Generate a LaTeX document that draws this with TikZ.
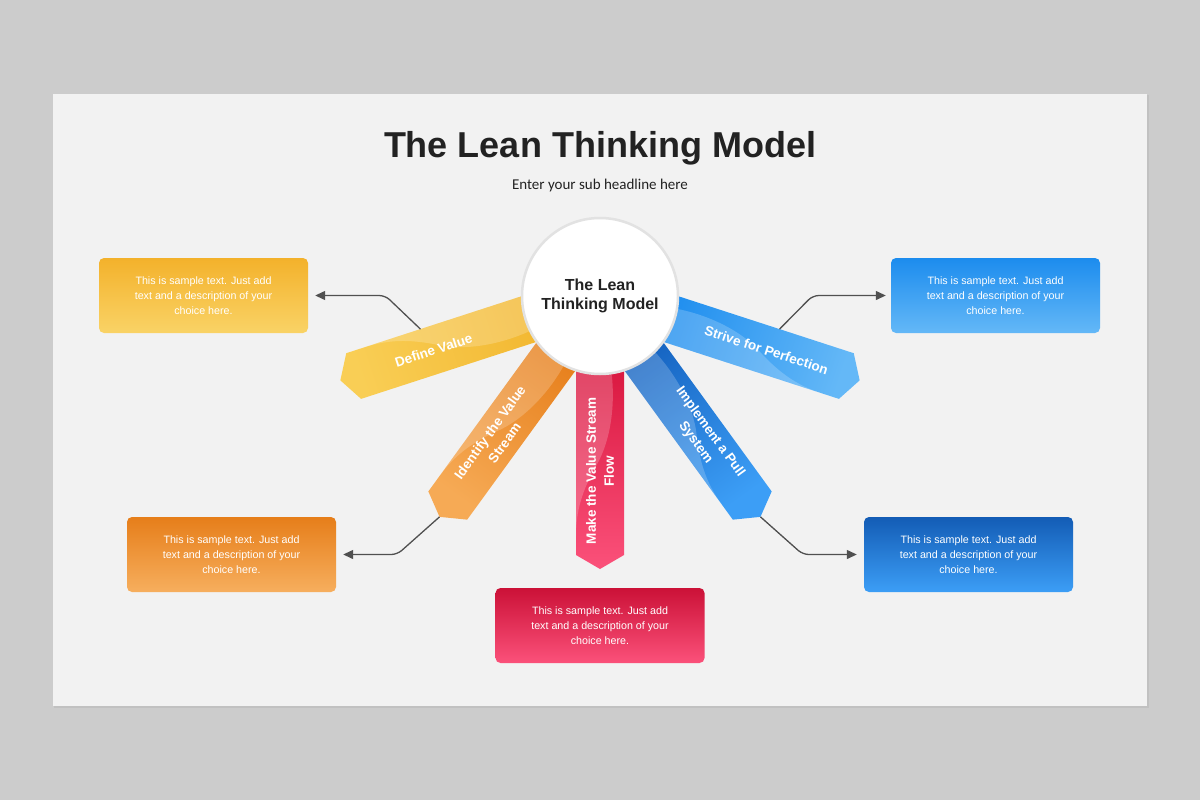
\documentclass[tikz,border=0pt]{standalone}
\usepackage{fontspec}
\setmainfont{Liberation Sans}
\newfontfamily\subfont{Carlito}
\usetikzlibrary{arrows.meta}

\definecolor{pagegray}{HTML}{CCCCCC}
\definecolor{slidegray}{HTML}{F2F2F2}
\definecolor{ink}{HTML}{222222}
\definecolor{linegray}{HTML}{505050}
\definecolor{ringgray}{HTML}{E2E2E2}
\definecolor{yelA}{HTML}{F2B730}
\definecolor{yelB}{HTML}{F9CE55}
\definecolor{oraA}{HTML}{E67E1A}
\definecolor{oraB}{HTML}{F6AA55}
\definecolor{redA}{HTML}{D6123A}
\definecolor{redB}{HTML}{FB517A}
\definecolor{pulA}{HTML}{1461BF}
\definecolor{pulB}{HTML}{3C9EF6}
\definecolor{strA}{HTML}{1C8CEE}
\definecolor{strB}{HTML}{64B8F7}

\begin{document}
\begin{tikzpicture}[x=1pt,y=1pt,
  sample/.style={rounded corners=5pt, minimum width=209pt, minimum height=75pt,
    inner sep=0pt, align=center, text=white, font=\fontsize{10.7}{15}\selectfont},
  lead/.style={draw=linegray, line width=1.3pt, rounded corners=6pt,
    -{Triangle[length=10pt,width=9pt]}},
  band/.style={text=white, align=center, font=\bfseries\fontsize{13.5}{18}\selectfont},
  gloss/.style={fill=white, opacity=.2}]

\useasboundingbox (0,0) rectangle (1200,-800);
\fill[pagegray] (0,0) rectangle (1200,-800);
\fill[black, opacity=.05] (54,-95) rectangle (1149,-708);
\fill[slidegray] (53,-94) rectangle (1147,-706);

\node[font=\bfseries\fontsize{36}{40}\selectfont, text=ink, anchor=base] (title) at (600,-157) {The Lean Thinking Model};
\node[font=\subfont\fontsize{15}{18}\selectfont, text=ink, anchor=base] (subtitle) at (600,-189) {Enter your sub headline here};

\begin{scope}[shift={(600,-296)}, rotate=198]
\shade[top color=yelB, bottom color=yelA, shading angle=108] (50,24) -- (259,24) -- (273,0) -- (259,-24) -- (50,-24) -- cycle;
\fill[gloss] (50,-24) -- (50,6) .. controls (90,18) and (140,14) .. (170,-4) .. controls (195,-18) and (215,-24) .. (240,-24) -- cycle;
\node[band, rotate=18] (value) at (175,0) {Define Value};
\coordinate (valuefoot) at (181,-24);
\end{scope}

\begin{scope}[shift={(600,-296)}, rotate=234]
\shade[top color=oraB, bottom color=oraA, shading angle=144] (50,24) -- (259,24) -- (273,0) -- (259,-24) -- (50,-24) -- cycle;
\fill[gloss] (50,-24) -- (50,6) .. controls (90,18) and (140,14) .. (170,-4) .. controls (195,-18) and (215,-24) .. (240,-24) -- cycle;
\node[band, rotate=54] (stream) at (175,0) {Identify the Value\\Stream};
\coordinate (streamtip) at (273,0);
\end{scope}

\begin{scope}[shift={(600,-296)}, rotate=270]
\shade[top color=redB, bottom color=redA, shading angle=180] (50,24) -- (259,24) -- (273,0) -- (259,-24) -- (50,-24) -- cycle;
\fill[gloss] (50,-24) -- (50,6) .. controls (90,18) and (140,14) .. (170,-4) .. controls (195,-18) and (215,-24) .. (240,-24) -- cycle;
\node[band, rotate=90] (flow) at (175,0) {Make the Value Stream\\Flow};
\end{scope}

\begin{scope}[shift={(600,-296)}, rotate=306]
\shade[top color=pulB, bottom color=pulA, shading angle=216] (50,24) -- (259,24) -- (273,0) -- (259,-24) -- (50,-24) -- cycle;
\fill[gloss] (50,-24) -- (50,6) .. controls (90,18) and (140,14) .. (170,-4) .. controls (195,-18) and (215,-24) .. (240,-24) -- cycle;
\node[band, rotate=-54] (pull) at (175,0) {Implement a Pull\\System};
\coordinate (pulltip) at (273,0);
\end{scope}

\begin{scope}[shift={(600,-296)}, rotate=342]
\shade[top color=strB, bottom color=strA, shading angle=252] (50,24) -- (259,24) -- (273,0) -- (259,-24) -- (50,-24) -- cycle;
\fill[gloss] (50,-24) -- (50,6) .. controls (90,18) and (140,14) .. (170,-4) .. controls (195,-18) and (215,-24) .. (240,-24) -- cycle;
\node[band, rotate=-18] (perfect) at (175,0) {Strive for Perfection};
\coordinate (perfectfoot) at (181,24);
\end{scope}

\node[circle, fill=white, draw=ringgray, line width=2.5pt, minimum size=156pt, align=center,
  font=\bfseries\fontsize{16}{19}\selectfont, text=ink] (core) at (600,-296) {The Lean\\Thinking Model};

\node[sample, top color=yelA!90!orange, bottom color=yelB!90!white] (ybox) at (203.5,-295.5) {This is sample text. Just add\\text and a description of your\\choice here.};
\node[sample, top color=oraA, bottom color=oraB!95!white] (obox) at (231.5,-554.5) {This is sample text. Just add\\text and a description of your\\choice here.};
\node[sample, top color=redA!95!black, bottom color=redB] (rbox) at (600,-625.5) {This is sample text. Just add\\text and a description of your\\choice here.};
\node[sample, top color=pulA!95!black, bottom color=pulB] (bbox) at (968.5,-554.5) {This is sample text. Just add\\text and a description of your\\choice here.};
\node[sample, top color=strA, bottom color=strB] (sbox) at (995.5,-295.5) {This is sample text. Just add\\text and a description of your\\choice here.};

\draw[lead] (valuefoot) -- ([xshift=77pt]ybox.east) -- ([xshift=7pt]ybox.east);
\draw[lead] (streamtip) -- ([xshift=61pt]obox.east) -- ([xshift=7pt]obox.east);
\draw[lead] (pulltip) -- ([xshift=-61pt]bbox.west) -- ([xshift=-7pt]bbox.west);
\draw[lead] (perfectfoot) -- ([xshift=-78pt]sbox.west) -- ([xshift=-5pt]sbox.west);
\end{tikzpicture}
\end{document}
